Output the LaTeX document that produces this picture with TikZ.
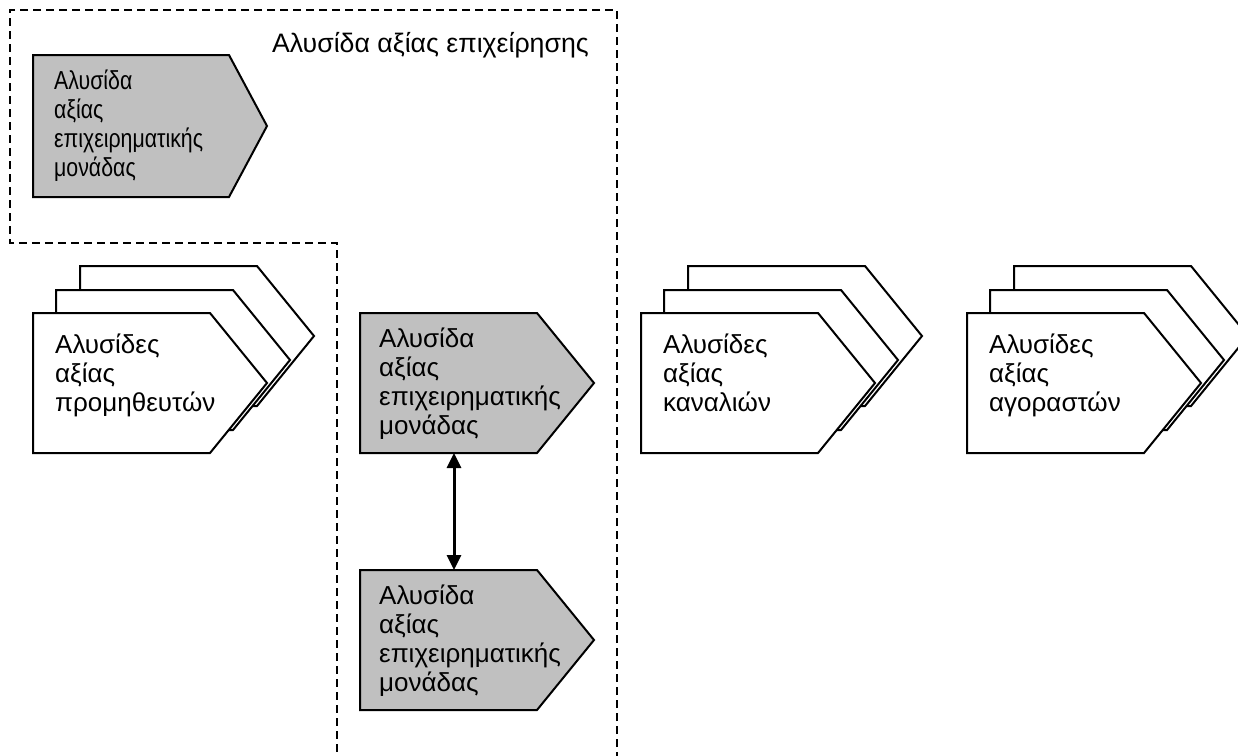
\documentclass[tikz,border=0pt]{standalone}
\usepackage{fontspec}
\setmainfont{Liberation Sans}
\usetikzlibrary{calc,arrows.meta}
\definecolor{chaingray}{RGB}{192,192,192}
% invisible strut so that every label's top sits at a fixed distance above its first baseline
\newcommand\firststrut{\rule{0pt}{22pt}}
% chevron: #1 name, #2 top-left corner, #3 look, #4 depth of the point, #5 height
\newcommand\chevron[5]{%
  \node[chevbody, minimum height=#5pt] (#1) at (#2) {};
  \draw[#3] (#1.north west) -- ($(#1.north east)+(-#4,0)$) -- (#1.east)
        -- ($(#1.south east)+(-#4,0)$) -- (#1.south west) -- cycle;
}
\tikzset{
  chevbody/.style={rectangle, draw=none, minimum width=234pt,
                   inner sep=0pt, outer sep=0pt, anchor=north west},
  whitechev/.style={draw=black, fill=white, line width=2pt, line join=miter},
  graychev/.style={draw=black, fill=chaingray, line width=2pt, line join=miter},
  label/.style={anchor=north west, inner sep=0pt, align=left,
                font=\fontsize{26}{29}\selectfont},
  narrowlabel/.style={label, font=\fontsize{26}{29}\selectfont\addfontfeature{FakeStretch=0.82}},
  frame/.style={line width=1.5pt, dash pattern=on 8pt off 5pt},
  link/.style={line width=3pt, {Triangle[length=15pt,width=14pt]}-{Triangle[length=15pt,width=14pt]}},
}
\begin{document}
\begin{tikzpicture}[x=1pt,y=-1pt]
\useasboundingbox (0,0) rectangle (1238,755);

% boundary of the company value chain
\draw[frame] (617,760) -- (617,10) -- (10,10) -- (10,243) -- (337,243) -- (337,760);
\node[anchor=base east, inner sep=0pt, font=\fontsize{26.7}{29}\selectfont] (title) at (589,52)
  {Αλυσίδα αξίας επιχείρησης};

% business unit value chain inside the frame
\chevron{unitTop}{33,55}{graychev}{38}{142}
\node[narrowlabel] (unitTopText) at ($(unitTop.north west)+(21,12)$)
  {\firststrut Αλυσίδα\\αξίας\\επιχειρηματικής\\μονάδας};

% suppliers
\chevron{supC}{80,266}{whitechev}{57}{140}
\chevron{supB}{56,290}{whitechev}{57}{140}
\chevron{supA}{33,313}{whitechev}{57}{140}
\node[label] (supText) at ($(supA.north west)+(22,18)$)
  {\firststrut Αλυσίδες\\αξίας\\προμηθευτών};

% business units
\chevron{unitMid}{360,313}{graychev}{57}{140}
\node[label] (unitMidText) at ($(unitMid.north west)+(19,12)$)
  {\firststrut Αλυσίδα\\αξίας\\επιχειρηματικής\\μονάδας};
\chevron{unitLow}{360,570}{graychev}{57}{140}
\node[label] (unitLowText) at ($(unitLow.north west)+(19,12)$)
  {\firststrut Αλυσίδα\\αξίας\\επιχειρηματικής\\μονάδας};
\draw[link] ($(unitMid.south west)+(94,0)$) -- ($(unitLow.north west)+(94,0)$);

% channels
\chevron{chanC}{688,266}{whitechev}{57}{140}
\chevron{chanB}{664,290}{whitechev}{57}{140}
\chevron{chanA}{641,313}{whitechev}{57}{140}
\node[label] (chanText) at ($(chanA.north west)+(22,18)$)
  {\firststrut Αλυσίδες\\αξίας\\καναλιών};

% buyers
\chevron{buyC}{1014,266}{whitechev}{57}{140}
\chevron{buyB}{990,290}{whitechev}{57}{140}
\chevron{buyA}{967,313}{whitechev}{57}{140}
\node[label] (buyText) at ($(buyA.north west)+(22,18)$)
  {\firststrut Αλυσίδες\\αξίας\\αγοραστών};
\end{tikzpicture}
\end{document}
